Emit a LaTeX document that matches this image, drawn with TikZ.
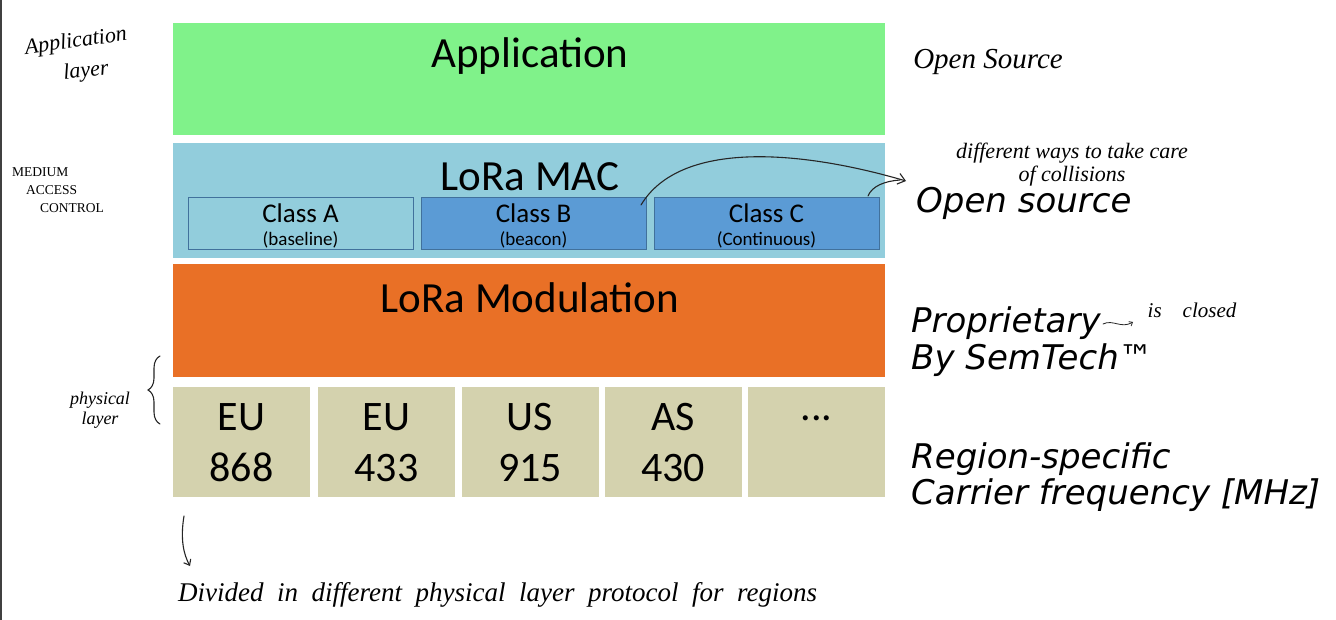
\documentclass[tikz,border=0pt]{standalone}
\usepackage{fontspec}
\setmainfont{Carlito}
\newfontfamily\verd{DejaVu Sans}
\newfontfamily\hand{Liberation Serif}
\usetikzlibrary{arrows.meta,decorations.pathreplacing}
\definecolor{appgreen}{RGB}{128,242,138}
\definecolor{macblue}{RGB}{146,205,220}
\definecolor{classblue}{RGB}{91,155,213}
\definecolor{classedge}{RGB}{65,113,156}
\definecolor{modorange}{RGB}{233,112,38}
\definecolor{regtan}{RGB}{212,210,174}
\tikzset{
  layer/.style={rectangle, draw=none, inner sep=0pt, minimum width=712pt},
  classbox/.style={rectangle, draw=classedge, line width=0.8pt, inner sep=0pt, minimum width=225pt, minimum height=52pt},
  regbox/.style={rectangle, fill=regtan, inner sep=0pt, minimum width=137pt, minimum height=110pt},
  big/.style={font=\fontsize{43}{43}\selectfont, inner sep=0pt},
  regtxt/.style={font=\fontsize{42}{51}\selectfont, inner sep=0pt, align=center},
  cls/.style={font=\fontsize{27}{27}\selectfont, inner sep=0pt},
  clssub/.style={font=\fontsize{19}{19}\selectfont, inner sep=0pt},
  side/.style={font=\verd\itshape\fontsize{34}{34}\selectfont, inner sep=0pt, anchor=base west},
  note/.style={font=\hand\itshape\fontsize{22}{27}\selectfont, inner sep=0pt, align=center},
  pen/.style={draw=black!85, line width=1.1pt, line cap=round},
}
\begin{document}
\begin{tikzpicture}[x=1pt,y=-1pt]
\useasboundingbox (0,0) rectangle (1336,620);
\fill[white] (0,0) rectangle (1336,620);
\fill[black!75] (0,0) rectangle (2,620);

% layers
\node[layer, fill=appgreen, minimum height=112pt] (app) at (529,79) {};
\node[big] (apptxt) at (530,56) {Application};

\node[layer, fill=macblue, minimum height=115pt] (mac) at (529,200.5) {};
\node[big] (mactxt) at (530,177) {LoRa MAC};

\node[classbox, fill=macblue] (ca) at (300.5,223) {};
\node[cls] (catxt) at (300.5,213) {Class A};
\node[clssub] (casub) at (300.5,240) {(baseline)};
\node[classbox, fill=classblue] (cb) at (533.5,223) {};
\node[cls] (cbtxt) at (533.5,213) {Class B};
\node[clssub] (cbsub) at (533.5,240) {(beacon)};
\node[classbox, fill=classblue] (cc) at (766.5,223) {};
\node[cls] (cctxt) at (766.5,213) {Class C};
\node[clssub] (ccsub) at (766.5,240) {(Continuous)};

\node[layer, fill=modorange, minimum height=113pt] (mod) at (529,320.5) {};
\node[big] (modtxt) at (530,298) {LoRa Modulation};

% regions
\node[regbox] (r1) at (241.5,442) {};
\node[regtxt] (r1t) at (241.5,443) {EU\\868};
\node[regbox] (r2) at (386.5,442) {};
\node[regtxt] (r2t) at (386.5,443) {EU\\433};
\node[regbox] (r3) at (530,442) {};
\node[regtxt] (r3t) at (530,443) {US\\915};
\node[regbox] (r4) at (673,442) {};
\node[regtxt] (r4t) at (673,443) {AS\\430};
\node[regbox] (r5) at (816.5,442) {};
\node[regtxt] (r5t) at (816.5,418) {...};

% right side texts
\node[side] (os) at (916,213) {Open source};
\node[side] (prop) at (911,332) {Proprietary};
\node[side] (sem) at (911,369) {By SemTech™};
\node[side] (reg) at (911,468) {Region-specific};
\node[side] (car) at (911,504) {Carrier frequency [MHz]};

% handwritten notes
\node[note, rotate=8] (applayer1) at (76,42) {Application};
\node[note, rotate=6] (applayer2) at (86,72) {layer};
\node[note, font=\hand\itshape\fontsize{29}{29}\selectfont] (opensrc) at (988,62) {Open Source};
\node[note, font=\hand\fontsize{13.5}{18}\selectfont, align=left] (mediumac) at (58,190) {MEDIUM\\\hspace*{14pt}ACCESS\\\hspace*{28pt}CONTROL};
\node[note, font=\hand\itshape\fontsize{22}{23}\selectfont] (diffways) at (1072,165) {different ways to take care\\of collisions};
\node[note, font=\hand\itshape\fontsize{21}{21}\selectfont] (closed) at (1192,310) {is\quad closed};
\node[note, font=\hand\itshape\fontsize{18}{20}\selectfont] (phys) at (100,410) {physical\\layer};
\node[note, font=\hand\itshape\fontsize{27}{27}\selectfont, anchor=west] (divided) at (178,595) {Divided \ in \ different \ physical \ layer \ protocol \ for \ regions};

% curved arrows
\coordinate (bstart) at (641,205);
\coordinate (cstart) at (868,196);
\coordinate (arrtip) at (906,181);
\draw[pen, -{Straight Barb[length=7pt,width=11pt]}] (bstart) .. controls (680,140) and (800,150) .. (arrtip);
\draw[pen] (cstart) .. controls (872,186) and (885,181) .. (900,180);

% proprietary -> is closed
\coordinate (pa) at (1103,324);
\coordinate (pb) at (1133,322);
\draw[pen, line width=0.8pt, -{Straight Barb[length=3pt,width=5pt]}] (pa) .. controls (1113,319) and (1121,329) .. (pb);

% brace
\coordinate (bb) at (160,424);
\coordinate (bt) at (160,356);
\draw[pen, decorate, decoration={brace, amplitude=12pt}] (bb) -- (bt);

% arrow down
\coordinate (da) at (184,516);
\coordinate (db) at (190,566);
\draw[pen, -{Straight Barb[length=5pt,width=8pt]}] (da) .. controls (180,540) and (184,555) .. (db);
\end{tikzpicture}
\end{document}
